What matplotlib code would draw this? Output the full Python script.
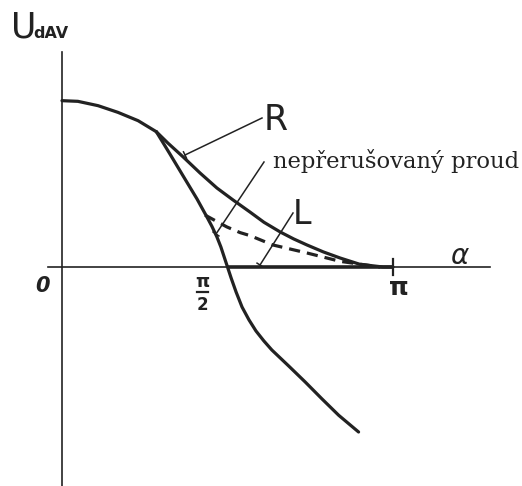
import numpy as np
import matplotlib
matplotlib.use("Agg")
import matplotlib.pyplot as plt

# alpha in multiples of pi, U_dAV relative to its value at alpha = 0
alpha_common = [0.0, 0.048, 0.109, 0.169, 0.230, 0.285]
u_common = [0.996, 0.992, 0.966, 0.926, 0.876, 0.810]

# continuous current branch (crosses zero at pi/2)
alpha_cont = [0.285, 0.326, 0.366, 0.408, 0.438, 0.453, 0.468, 0.480, 0.489, 0.5,
              0.511, 0.526, 0.544, 0.565, 0.586, 0.610, 0.634, 0.685, 0.735,
              0.785, 0.836, 0.896]
u_cont = [0.810, 0.677, 0.545, 0.407, 0.299, 0.243, 0.180, 0.120, 0.066, 0.0,
          -0.066, -0.150, -0.240, -0.317, -0.383, -0.443, -0.497, -0.593, -0.689,
          -0.789, -0.888, -0.988]

# resistive load
alpha_r = [0.285, 0.320, 0.366, 0.417, 0.468, 0.517, 0.568, 0.610, 0.659,
           0.700, 0.740, 0.790, 0.840, 0.900, 0.970, 1.0]
u_r = [0.810, 0.742, 0.659, 0.563, 0.473, 0.401, 0.329, 0.268, 0.210,
       0.168, 0.132, 0.090, 0.054, 0.016, 0.0, 0.0]

# inductive load (dashed)
alpha_l = [0.432, 0.498, 0.538, 0.568, 0.637, 0.740, 0.840, 0.961]
u_l = [0.311, 0.240, 0.206, 0.188, 0.132, 0.084, 0.034, 0.0]

W, H = 522, 486
X0, Y0, SX, SY = 62, 267, 331, 167


def px(x, y):
    # page position (pixels from top-left) -> data coordinates
    return (x - X0) / SX, (Y0 - y) / SY


ink = "#222222"
fig = plt.figure(figsize=(W / 100, H / 100), dpi=100)
ax = fig.add_axes([0, 0, 1, 1])
ax.set_xlim(-X0 / SX, (W - X0) / SX)
ax.set_ylim((Y0 - H) / SY, Y0 / SY)
ax.axis("off")

# axes
ax.plot(*zip(px(62, 52), px(62, 486)), color=ink, lw=1.2)
ax.plot(*zip(px(48, 267), px(490, 267)), color=ink, lw=1.2)
ax.plot([0.5, 1.0], [0, 0], color=ink, lw=2.6, solid_capstyle="butt")
ax.plot(*zip(px(393, 259), px(393, 275)), color=ink, lw=1.6)

# curves
curve = dict(color=ink, lw=2.3, solid_capstyle="round", solid_joinstyle="round")
ax.plot(alpha_common, u_common, **curve)
ax.plot(alpha_cont, u_cont, **curve)
ax.plot(alpha_r, u_r, **curve)
ax.plot(alpha_l, u_l, color=ink, lw=2.3, linestyle=(0, (3.5, 2.2)))

# leader lines with small end ticks
leaders = [((185, 155), (262, 118)), ((216, 234), (264, 162)), ((260, 265), (293, 213))]
for (xa, ya), (xb, yb) in leaders:
    ax.plot(*zip(px(xa, ya), px(xb, yb)), color=ink, lw=1.1)
    d = np.array([xb - xa, yb - ya], dtype=float)
    n = np.array([-d[1], d[0]]) / np.hypot(*d) * 3.5
    ax.plot(*zip(px(xa + n[0], ya + n[1]), px(xa - n[0], ya - n[1])), color=ink, lw=1.1)

# labels
ax.text(*px(11, 38), "U", fontsize=25, color=ink, ha="left", va="baseline")
ax.text(*px(33, 38), "dAV", fontsize=11.5, fontweight="bold", color=ink, ha="left", va="baseline")
ax.text(*px(42, 286), "0", fontsize=15, fontweight="bold", fontstyle="italic", color=ink,
        ha="center", va="center")
ax.text(*px(202, 282), "π", fontsize=13, fontweight="bold", color=ink, ha="center", va="center")
ax.plot(*zip(px(197, 292), px(208, 292)), color=ink, lw=1.6)
ax.text(*px(202, 305), "2", fontsize=12, fontweight="bold", color=ink, ha="center", va="center")
ax.text(*px(399, 288), "π", fontsize=18, fontweight="bold", color=ink, ha="center", va="center")
ax.text(*px(460, 256), r"$\alpha$", fontsize=20, color=ink, ha="center", va="center")
ax.text(*px(264, 130), "R", fontsize=25, color=ink, ha="left", va="baseline")
ax.text(*px(293, 224), "L", fontsize=24, color=ink, ha="left", va="baseline")
ax.text(*px(273, 168), "nepřerušovaný proud", fontsize=16.3, family="DejaVu Serif",
        color=ink, ha="left", va="baseline")

fig.savefig("out.png", dpi=100, facecolor="white")
